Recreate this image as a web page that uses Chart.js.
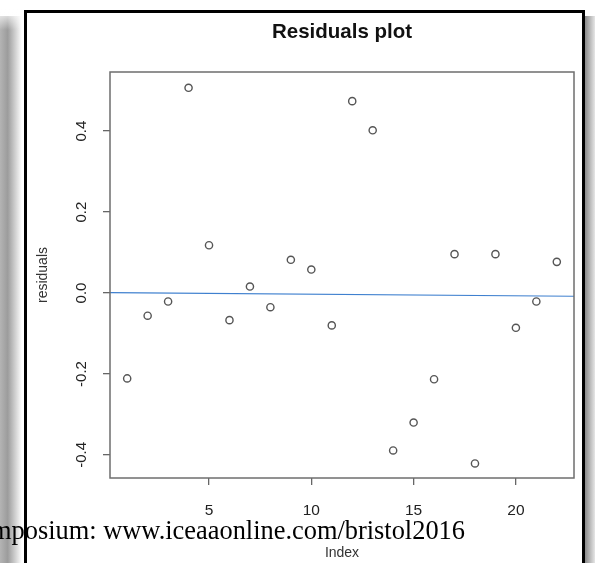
<!DOCTYPE html>
<html>
<head>
<meta charset="utf-8">
<title>Residuals plot</title>
<script src="https://cdn.jsdelivr.net/npm/chart.js@4/dist/chart.umd.min.js"></script>
<style>
  html, body { margin: 0; padding: 0; background: #fff; overflow: hidden; }
  #wrap { position: relative; width: 595px; height: 563px; overflow: hidden; }
  #note {
    position: absolute;
    right: 130px;
    top: 517px;
    white-space: nowrap;
    font-family: "Liberation Serif", "Times New Roman", serif;
    font-size: 26.4px;
    line-height: 26px;
    color: #000;
  }
</style>
</head>
<body>
<div id="wrap">
  <canvas id="residualChart" width="595" height="563"></canvas>
  <div id="note">Symposium: www.iceaaonline.com/bristol2016</div>
</div>
<script>
const index = [1, 2, 3, 4, 5, 6, 7, 8, 9, 10, 11, 12, 13, 14, 15, 16, 17, 18, 19, 20, 21, 22];
const residuals = [-0.211, -0.056, -0.021, 0.507, 0.118, -0.067, 0.016, -0.035, 0.082, 0.058, -0.080,
  0.474, 0.402, -0.389, -0.320, -0.213, 0.096, -0.421, 0.096, -0.086, -0.021, 0.077];
const fitX = [0.16, 22.84];
const fitY = [0.001, -0.008];
const xTicks = [5, 10, 15, 20];
const yTicks = [-0.4, -0.2, 0.0, 0.2, 0.4];

const ctx = document.getElementById('residualChart').getContext('2d');

// picture frame with drop shadow + the box around the plot region
const framePlugin = {
  id: 'frame',
  beforeDraw(chart) {
    const c = chart.ctx;
    c.save();
    let g = c.createLinearGradient(0, 0, 22, 0);
    g.addColorStop(0, '#b4b4b4');
    g.addColorStop(0.35, '#9c9c9c');
    g.addColorStop(1, '#ffffff');
    c.fillStyle = g;
    c.fillRect(0, 16, 22, 547);
    g = c.createLinearGradient(0, 8, 0, 30);
    g.addColorStop(0, 'rgba(255,255,255,1)');
    g.addColorStop(1, 'rgba(255,255,255,0)');
    c.fillStyle = g;
    c.fillRect(0, 8, 22, 22);

    g = c.createLinearGradient(585, 0, 595, 0);
    g.addColorStop(0, '#8a8a8a');
    g.addColorStop(1, '#e6e6e6');
    c.fillStyle = g;
    c.fillRect(585, 16, 10, 547);

    c.strokeStyle = '#000';
    c.lineWidth = 3;
    c.beginPath();
    c.moveTo(25.5, 563);
    c.lineTo(25.5, 11.5);
    c.lineTo(583.5, 11.5);
    c.lineTo(583.5, 563);
    c.stroke();
    c.restore();
  },
  afterDraw(chart) {
    const a = chart.chartArea;
    const c = chart.ctx;
    c.save();
    c.strokeStyle = '#6e6e6e';
    c.lineWidth = 1.5;
    c.strokeRect(a.left, a.top, a.right - a.left, a.bottom - a.top);
    c.restore();
  }
};

new Chart(ctx, {
  type: 'scatter',
  data: {
    datasets: [
      {
        type: 'line',
        data: fitX.map((x, i) => ({ x, y: fitY[i] })),
        borderColor: '#3f80cf',
        borderWidth: 1.2,
        pointRadius: 0,
        fill: false
      },
      {
        data: index.map((x, i) => ({ x, y: residuals[i] })),
        pointRadius: 3.6,
        pointBorderWidth: 1.4,
        pointBorderColor: '#555',
        pointBackgroundColor: 'rgba(255,255,255,0)'
      }
    ]
  },
  plugins: [framePlugin],
  options: {
    responsive: false,
    animation: false,
    devicePixelRatio: 1,
    layout: { padding: { left: 0, right: 21, top: 0, bottom: 0 } },
    plugins: {
      legend: { display: false },
      tooltip: { enabled: false },
      title: {
        display: true,
        text: 'Residuals plot',
        fullSize: false,
        color: '#111',
        font: { family: 'Liberation Sans, Arial, sans-serif', size: 20.5, weight: 'bold' },
        padding: { top: 20, bottom: 27.4 }
      }
    },
    scales: {
      x: {
        type: 'linear',
        min: 0.16,
        max: 22.84,
        afterFit: s => { s.height = 85; },
        afterBuildTicks: s => { s.ticks = xTicks.map(v => ({ value: v })); },
        border: { display: false },
        grid: { drawOnChartArea: false, drawTicks: true, tickLength: 7, color: '#666', lineWidth: 1.3 },
        ticks: {
          padding: 16,
          maxRotation: 0,
          color: '#222',
          font: { family: 'Liberation Sans, Arial, sans-serif', size: 15.5 }
        },
        title: {
          display: true,
          text: 'Index',
          color: '#333',
          font: { family: 'Liberation Sans, Arial, sans-serif', size: 14 },
          padding: { top: 0, bottom: 1 }
        }
      },
      y: {
        type: 'linear',
        min: -0.457,
        max: 0.546,
        afterFit: s => { s.width = 110; },
        afterBuildTicks: s => { s.ticks = yTicks.map(v => ({ value: v })); },
        border: { display: false },
        grid: { drawOnChartArea: false, drawTicks: true, tickLength: 7, color: '#666', lineWidth: 1.3 },
        ticks: {
          minRotation: 90,
          maxRotation: 90,
          crossAlign: 'center',
          padding: 8,
          color: '#222',
          font: { family: 'Liberation Sans, Arial, sans-serif', size: 15 },
          callback: v => v.toFixed(1)
        },
        title: {
          display: true,
          text: 'residuals',
          color: '#333',
          font: { family: 'Liberation Sans, Arial, sans-serif', size: 14 },
          padding: { top: 35, bottom: 0 }
        }
      }
    }
  }
});
</script>
</body>
</html>
